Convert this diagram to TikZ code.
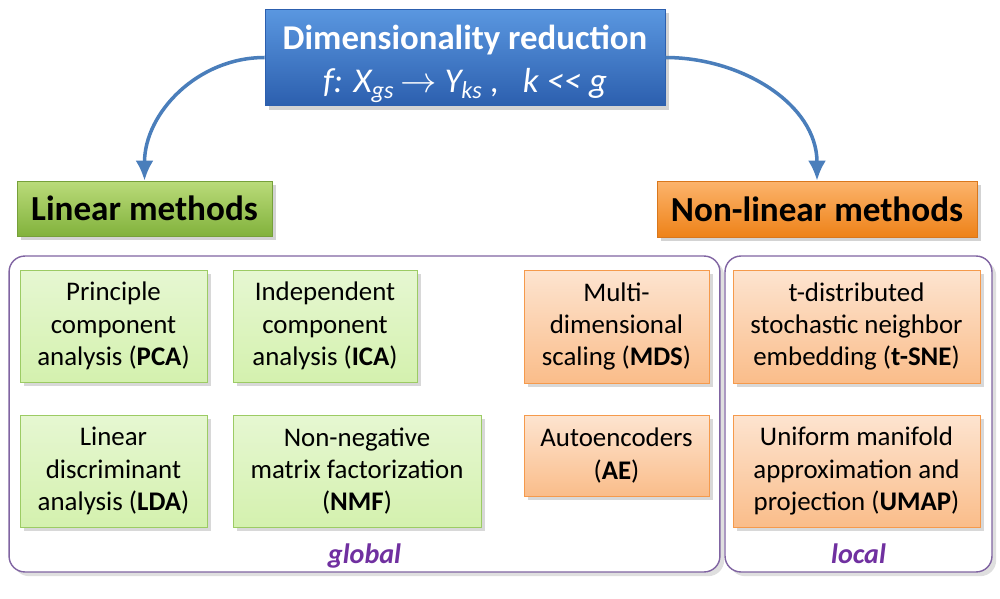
\documentclass[tikz,border=0pt]{standalone}
\usepackage{fontspec}
\setmainfont{Carlito}
\usepackage{tikz}
\usetikzlibrary{arrows.meta, positioning, shadows}
\definecolor{myblue}{HTML}{4A7EBB}
\definecolor{mybluetop}{HTML}{5A97E0}
\definecolor{mybluebot}{HTML}{2C5FAE}
\definecolor{mygreentop}{HTML}{BADB7A}
\definecolor{mygreenbot}{HTML}{82B23C}
\definecolor{mygreenborder}{HTML}{76A03A}
\definecolor{myorangetop}{HTML}{FCB46C}
\definecolor{myorangebot}{HTML}{EE8218}
\definecolor{myorangeborder}{HTML}{D9771C}
\definecolor{mylightgreen}{HTML}{E6F7D2}
\definecolor{mylightgreenbot}{HTML}{D4F1AE}
\definecolor{mylightgreenborder}{HTML}{9CCB64}
\definecolor{mylightorange}{HTML}{FDE4D0}
\definecolor{mylightorangebot}{HTML}{FABD8A}
\definecolor{mylightorangeborder}{HTML}{F59A4C}
\definecolor{mypurple}{HTML}{8064A2}
\definecolor{mypurpletext}{HTML}{7030A0}
\tikzset{
titlebox/.style={
draw=mybluebot,
top color=mybluetop,
bottom color=mybluebot,
drop shadow={opacity=0.35},
text=white,
align=center,
inner sep=2pt
},
headgreen/.style={
draw=mygreenborder,
top color=mygreentop,
bottom color=mygreenbot,
drop shadow={opacity=0.35},
font=\fontsize{20}{24}\selectfont\bfseries,
inner sep=2pt
},
headorange/.style={
draw=myorangeborder,
top color=myorangetop,
bottom color=myorangebot,
drop shadow={opacity=0.35},
font=\fontsize{20}{24}\selectfont\bfseries,
inner sep=2pt
},
methodgreen/.style={
draw=mylightgreenborder,
top color=mylightgreen,
bottom color=mylightgreenbot,
drop shadow={opacity=0.3},
align=center,
inner sep=2pt
},
methodorange/.style={
draw=mylightorangeborder,
top color=mylightorange,
bottom color=mylightorangebot,
drop shadow={opacity=0.3},
align=center,
inner sep=2pt
},
groupbox/.style={
draw=mypurple,
fill=white,
line width=0.8pt,
rounded corners=9pt,
drop shadow={opacity=0.25}
},
grouplabel/.style={
font=\fontsize{16}{18}\selectfont\bfseries\itshape,
text=mypurpletext,
anchor=base
},
curvearrow/.style={
-{Latex[length=4mm,width=3.6mm]},
line width=2pt,
draw=myblue
}
}
\begin{document}
\begin{tikzpicture}[
x=0.02cm, y=-0.02cm,
font=\fontsize{15.3}{18.4}\selectfont
]
\useasboundingbox (0,0) rectangle (1000,598);

% containers
\node[groupbox, minimum width=14.22cm, minimum height=6.32cm] (global) at (364.5,414) {};
\node[groupbox, minimum width=5.34cm, minimum height=6.32cm] (local) at (858.5,414) {};
\node[grouplabel] (globaltxt) at ([yshift=5pt]global.south) {global};
\node[grouplabel] (localtxt) at ([yshift=5pt]local.south) {local};

% heads
\node[titlebox, minimum width=8cm, minimum height=1.9cm] (dimred) at (465,57.5)
  {{\fontsize{19.8}{24}\selectfont\bfseries\rule{0pt}{21pt}Dimensionality reduction}\\[6pt]
   {\fontsize{19.8}{24}\selectfont\itshape f: X\textsubscript{gs}\,{\upshape$\rightarrow$} Y\textsubscript{ks} ,\ \ \ k <{}< g}};
\node[headgreen, minimum width=5.1cm, minimum height=1.1cm] (linear) at (144.5,208.5) {Linear methods};
\node[headorange, minimum width=6.4cm, minimum height=1.12cm] (nonlinear) at (817,209) {Non-linear methods};

\draw[curvearrow] (dimred.west) to[out=180,in=90] (linear.north);
\draw[curvearrow] (dimred.east) to[out=0,in=90] (nonlinear.north);

% linear methods
\node[methodgreen, minimum width=3.74cm, minimum height=2.24cm] (pca) at (113.5,326)
  {Principle\\component\\analysis (\textbf{PCA})};
\node[methodgreen, minimum width=3.68cm, minimum height=2.24cm] (ica) at (325,326)
  {Independent\\component\\analysis (\textbf{ICA})};
\node[methodgreen, minimum width=3.74cm, minimum height=2.24cm] (lda) at (113.5,471)
  {Linear\\discriminant\\analysis (\textbf{LDA})};
\node[methodgreen, minimum width=4.96cm, minimum height=2.24cm] (nmf) at (357,471)
  {Non-negative\\matrix factorization\\(\textbf{NMF})};

% non-linear methods
\node[methodorange, minimum width=3.7cm, minimum height=2.26cm] (mds) at (616.5,326.5)
  {Multi-\\dimensional\\scaling (\textbf{MDS})};
\node[methodorange, minimum width=3.7cm, minimum height=1.62cm] (ae) at (616.5,455.5)
  {Autoencoders\\(\textbf{AE})};
\node[methodorange, minimum width=4.94cm, minimum height=2.26cm] (tsne) at (856.5,326.5)
  {t-distributed\\stochastic neighbor\\embedding (\textbf{t-SNE})};
\node[methodorange, minimum width=4.94cm, minimum height=2.24cm] (umap) at (856.5,471)
  {Uniform manifold\\approximation and\\projection (\textbf{UMAP})};

\end{tikzpicture}
\end{document}
